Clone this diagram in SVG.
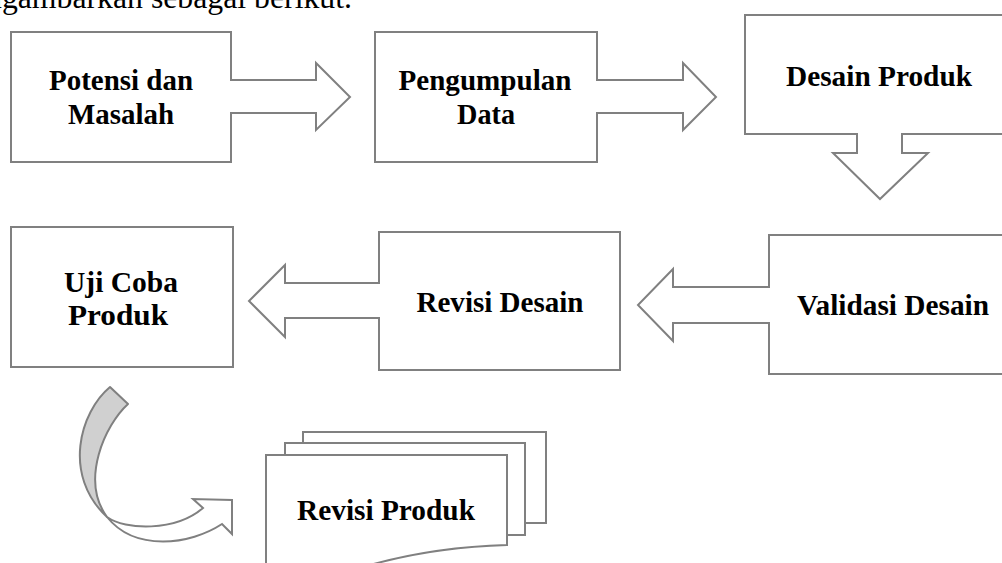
<svg xmlns="http://www.w3.org/2000/svg" width="1002" height="563" viewBox="0 0 1002 563">
<style>
.sh{fill:#fff;stroke:#808080;stroke-width:2;stroke-linejoin:miter}
.t{font-family:"Liberation Serif","Times New Roman",serif;font-weight:bold;font-size:29px;fill:#000;text-anchor:middle}
.body{font-family:"Liberation Serif","Times New Roman",serif;font-size:31px;fill:#000}
</style>
<rect width="1002" height="563" fill="#fff"/>
<text class="body" x="-14" y="8" textLength="366" lengthAdjust="spacingAndGlyphs">ngambarkan sebagai berikut.</text>

<g id="connectors">
  <path d="M110,387 L128,404 C105,425 80,480 107,517 C62,475 80,412 110,387 Z" fill="#d0d0d0" stroke="#808080" stroke-width="2" stroke-linejoin="round"/>
  <path d="M107,517 C125,530 175,532 203,508 L193,499 L232,500 L232,534 L222,524 C190,545 135,552 107,517 Z" fill="#fff" stroke="#808080" stroke-width="2" stroke-linejoin="miter"/>
</g>

<g id="node-potensi">
  <path class="sh" d="M11,32 H231 V80 H316 V63 L350,97 L316,130 V113 H231 V162 H11 Z"/>
  <text class="t" x="121" y="90" textLength="144" lengthAdjust="spacingAndGlyphs">Potensi dan</text>
  <text class="t" x="121" y="124" textLength="106" lengthAdjust="spacingAndGlyphs">Masalah</text>
</g>

<g id="node-pengumpulan">
  <path class="sh" d="M375,32 H597 V80 H683 V63 L716,97 L683,130 V113 H597 V162 H375 Z"/>
  <text class="t" x="485" y="90" textLength="173" lengthAdjust="spacingAndGlyphs">Pengumpulan</text>
  <text class="t" x="486" y="124" textLength="58" lengthAdjust="spacingAndGlyphs">Data</text>
</g>

<g id="node-desain">
  <path class="sh" d="M745,15 H1004 V134 H902 V153 H928 L880,199 L833,153 H857 V134 H745 Z"/>
  <text class="t" x="879" y="86" textLength="186" lengthAdjust="spacingAndGlyphs">Desain Produk</text>
</g>

<g id="node-validasi">
  <path class="sh" d="M769,235 H1004 V374 H769 V323 H673 V341 L638,305 L673,269 V287 H769 Z"/>
  <text class="t" x="893" y="315" textLength="192" lengthAdjust="spacingAndGlyphs">Validasi Desain</text>
</g>

<g id="node-revisi-desain">
  <path class="sh" d="M379,232 H620 V370 H379 V318 H285 V337 L249,301 L285,265 V283 H379 Z"/>
  <text class="t" x="500" y="312" textLength="167" lengthAdjust="spacingAndGlyphs">Revisi Desain</text>
</g>

<g id="node-uji-coba">
  <rect class="sh" x="11" y="227" width="222" height="140"/>
  <text class="t" x="121" y="292" textLength="114" lengthAdjust="spacingAndGlyphs">Uji Coba</text>
  <text class="t" x="118" y="325" textLength="100" lengthAdjust="spacingAndGlyphs">Produk</text>
</g>

<g id="node-revisi-produk">
  <path class="sh" d="M303,432 H546 V523 H303 Z"/>
  <path class="sh" d="M285,443 H525 V535 H285 Z"/>
  <path class="sh" d="M266,600 V455 H507 V545 C470,546 420,551 370,565 L266,600 Z"/>
  <text class="t" x="386" y="520" textLength="178" lengthAdjust="spacingAndGlyphs">Revisi Produk</text>
</g>
</svg>
